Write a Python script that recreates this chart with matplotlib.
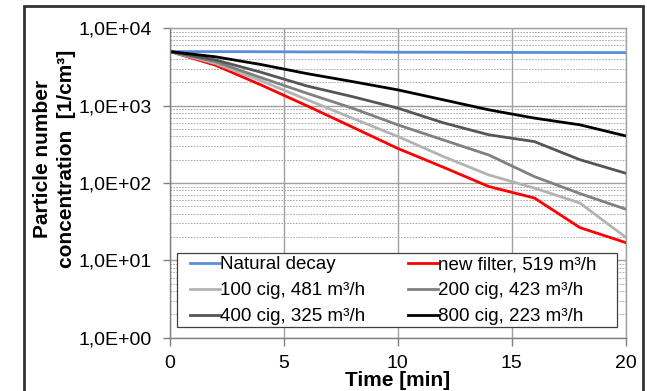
"""Particle number concentration decay chart (log scale)."""

import matplotlib
matplotlib.use("Agg")
import matplotlib.pyplot as plt
import matplotlib.ticker as ticker
from matplotlib.patches import Rectangle
import numpy as np

plt.rcParams["font.family"] = ["Liberation Sans", "DejaVu Sans"]

time_min = [0, 2, 4, 6, 8, 10, 12, 14, 16, 18, 20]

natural_decay = [5000, 5000, 4980, 4950, 4950, 4900, 4900, 4880, 4870, 4860, 4850]
new_filter = [5000, 3330, 1850, 1000, 530, 280, 160, 90, 64, 26.5, 17]
cig_100 = [5000, 3500, 2100, 1200, 690, 400, 220, 127, 86, 55, 20]
cig_200 = [5000, 3700, 2300, 1450, 930, 565, 360, 230, 121, 73, 46]
cig_400 = [5000, 3900, 2700, 1800, 1310, 930, 600, 420, 343, 200, 134]
cig_800 = [5000, 4280, 3400, 2600, 2050, 1600, 1190, 883, 690, 565, 407]

labels = [
    "Natural decay",
    "new filter, 519 m³/h",
    "100 cig, 481 m³/h",
    "200 cig, 423 m³/h",
    "400 cig, 325 m³/h",
    "800 cig, 223 m³/h",
]
series = [natural_decay, new_filter, cig_100, cig_200, cig_400, cig_800]
colors = ["#5a8fd8", "#ff0000", "#b3b3b3", "#808080", "#555555", "#000000"]

W, H = 647, 391
AX_L, AX_T, AX_W, AX_H = 170, 28.3, 455.5, 309.4
fig = plt.figure(figsize=(W / 100, H / 100), dpi=100)
ax = fig.add_axes([AX_L / W, 1 - (AX_T + AX_H) / H, AX_W / W, AX_H / H])


def ax_frac(px, py):
    # pixel position in the picture -> axes fraction
    return (px - AX_L) / AX_W, (AX_T + AX_H - py) / AX_H


lines = {}
for lab, vals, col in zip(labels, series, colors):
    (ln,) = ax.plot(time_min, vals, color=col, linewidth=2.0, label=lab)
    lines[lab] = ln

ax.set_yscale("log")
ax.set_ylim(1, 1e4)
ax.set_xlim(0, 20)
ax.xaxis.set_major_locator(ticker.MultipleLocator(5))
ax.yaxis.set_major_locator(ticker.LogLocator(base=10, numticks=10))
ax.yaxis.set_minor_locator(ticker.LogLocator(base=10, subs=np.arange(2, 10), numticks=10))
ax.yaxis.set_major_formatter(
    ticker.FuncFormatter(lambda v, _: f"1,0E+{int(round(np.log10(v))):02d}")
)
ax.yaxis.set_minor_formatter(ticker.NullFormatter())

ax.grid(which="major", axis="both", color="#a0a0a0", linewidth=1.0)
ax.grid(which="minor", axis="y", color="#a0a0a0", linewidth=0.6, linestyle=(0, (2, 1.5)))
ax.set_axisbelow(True)

for side in ["left", "bottom", "top", "right"]:
    ax.spines[side].set_color("#a0a0a0")
    ax.spines[side].set_linewidth(1.0)
ax.spines["left"].set_color("#808080")
ax.spines["bottom"].set_color("#808080")

ax.tick_params(axis="both", which="major", labelsize=14, width=1,
               color="#808080", direction="out")
ax.tick_params(axis="y", which="major", length=5, pad=8)
ax.tick_params(axis="x", which="major", length=6, pad=6.5)
ax.tick_params(axis="y", which="minor", length=0)

ax.set_xlabel("Time [min]", fontsize=15, fontweight="bold", labelpad=-1)
fig.text(54.5 / W, 1 - 158.5 / H, "Particle number\nconcentration  [1/cm³]",
         fontsize=15, fontweight="bold", rotation=90, ha="center", va="center",
         multialignment="center", linespacing=1.3)

# legend frame drawn separately so the inner padding can differ per direction
x0, y0 = ax_frac(176.7, 326.7)
x1, y1 = ax_frac(616.7, 253.3)
ax.add_patch(Rectangle((x0, y0), x1 - x0, y1 - y0, transform=ax.transAxes,
                       facecolor="white", edgecolor="#404040", linewidth=0.9,
                       zorder=4))

order = ["Natural decay", "100 cig, 481 m³/h", "400 cig, 325 m³/h",
         "new filter, 519 m³/h", "200 cig, 423 m³/h", "800 cig, 223 m³/h"]
lx, ly = ax_frac(190, 256.0)
leg = ax.legend([lines[k] for k in order], order, ncol=2, fontsize=13.5,
                loc="upper left", bbox_to_anchor=(lx, ly),
                frameon=False, handlelength=1.6, handletextpad=0.0,
                borderpad=0.0, labelspacing=0.48, columnspacing=2.3,
                borderaxespad=0)
leg.set_zorder(5)

fig.patches.append(Rectangle((24 / W, -0.05), 619 / W, 1.05 - 6 / H, transform=fig.transFigure,
                             fill=False, edgecolor="#333333", linewidth=2.0))

fig.savefig("out.png", dpi=100)
plt.close(fig)
